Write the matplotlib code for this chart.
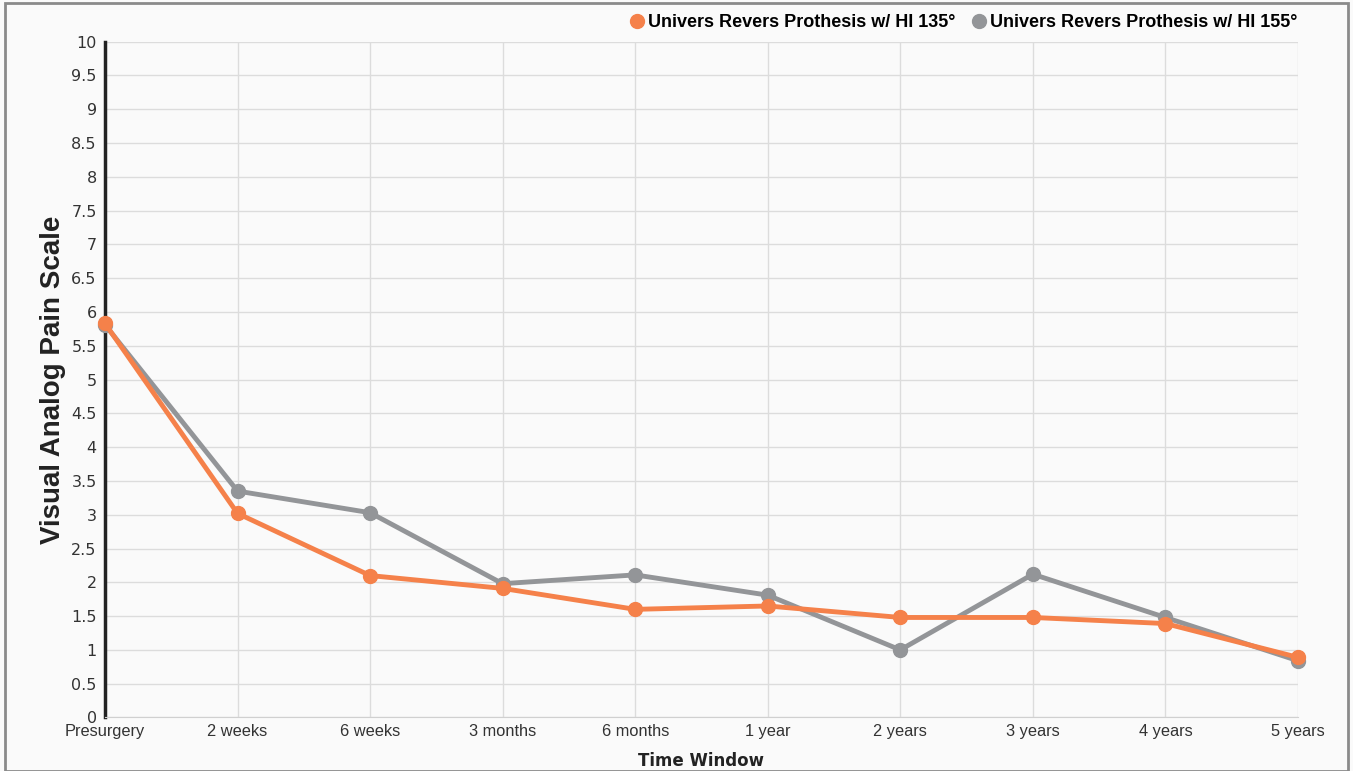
import matplotlib

matplotlib.use("Agg")
import matplotlib.pyplot as plt
from matplotlib.patches import Rectangle

categories = ["Presurgery", "2 weeks", "6 weeks", "3 months", "6 months",
              "1 year", "2 years", "3 years", "4 years", "5 years"]
hi_135 = [5.83, 3.02, 2.10, 1.91, 1.60, 1.65, 1.48, 1.48, 1.39, 0.89]
hi_155 = [5.81, 3.35, 3.03, 1.98, 2.11, 1.81, 1.00, 2.12, 1.48, 0.84]
y_ticks = [i * 0.5 for i in range(21)]
y_labels = ["0", "0.5", "1", "1.5", "2", "2.5", "3", "3.5", "4", "4.5", "5",
            "5.5", "6", "6.5", "7", "7.5", "8", "8.5", "9", "9.5", "10"]

ORANGE = "#f5814a"
GRAY = "#939598"
NARROW = ["Liberation Sans", "DejaVu Sans"]

fig = plt.figure(figsize=(13.53, 7.71), dpi=100, facecolor="#fafafa")
fig.patches.append(Rectangle((0.004, 0.0), 0.992, 0.996, transform=fig.transFigure,
                             fill=False, edgecolor="#8a8a8a", lw=2))
ax = fig.add_axes([0.0776, 0.0694, 0.8817, 0.8766])
ax.set_facecolor("#fafafa")

x = list(range(len(categories)))
ax.plot(x, hi_155, color=GRAY, lw=3.5, marker="o", ms=10, clip_on=False,
        label="Univers Revers Prothesis w/ HI 155°", zorder=3)
ax.plot(x, hi_135, color=ORANGE, lw=3.5, marker="o", ms=10, clip_on=False,
        label="Univers Revers Prothesis w/ HI 135°", zorder=4)

ax.set_xlim(0, len(categories) - 1)
ax.set_ylim(0, 10)
ax.set_xticks(x)
ax.set_xticklabels(categories, fontsize=11.8, family=NARROW, color="#333333")
ax.set_yticks(y_ticks)
ax.set_yticklabels(y_labels, fontsize=11.5, color="#333333")
ax.tick_params(length=0, pad=6)
ax.tick_params(axis="x", pad=5)
ax.grid(True, color="#dcdcdc", lw=1)
ax.set_axisbelow(True)
for s in ["top", "right"]:
    ax.spines[s].set_visible(False)
ax.spines["bottom"].set_color("#d0d0d0")
ax.spines["left"].set_color("#222222")
ax.spines["left"].set_linewidth(2.5)

ax.set_ylabel("Visual Analog Pain Scale", fontsize=20, fontweight="bold", family=NARROW,
              color="#222222", labelpad=4)
ax.set_xlabel("Time Window", fontsize=12, fontweight="bold", color="#222222", labelpad=9)

h, l = ax.get_legend_handles_labels()
fig.legend(h[::-1], l[::-1], loc="upper right", bbox_to_anchor=(0.971, 1.003), ncol=2,
           frameon=False, handlelength=0.7, handletextpad=0.25, columnspacing=1.0,
           borderpad=0.4, prop={"family": NARROW, "weight": "bold", "size": 13})
for line in fig.legends[0].get_lines():
    line.set_linestyle("none")

fig.savefig("out.png", dpi=100, facecolor=fig.get_facecolor())
